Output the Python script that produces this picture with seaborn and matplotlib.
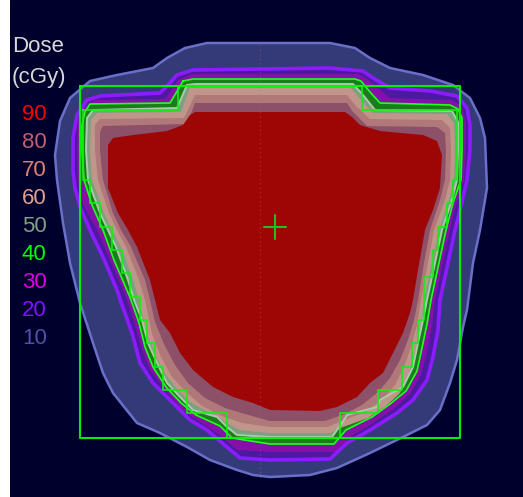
import matplotlib
matplotlib.use("Agg")
import matplotlib.pyplot as plt
import seaborn as sns
import pandas as pd

# Isodose levels (cGy) and their display colours
levels = [10, 20, 30, 40, 50, 60, 70, 80, 90]
label_colors = ["#5050a8", "#8010ff", "#e000e0", "#00ff00", "#80a080",
                "#e0a090", "#e08070", "#c06070", "#ff0000"]
fill_colors = ["#343a78", "#4c1aa0", "#8410a8", "#1a7d1a", "#7fa07f",
               "#c0968a", "#b07878", "#8c5068", "#9e0606"]

# Isodose contours in image coordinates (x, y)
iso_10 = [(185, 48), (207, 43), (330, 43), (355, 48), (370, 58), (390, 68), (423, 75), (453, 85),
          (470, 98), (480, 118), (485, 138), (487, 188), (480, 230), (473, 263), (467, 310),
          (463, 327), (457, 360), (450, 383), (440, 410), (427, 425), (403, 437), (370, 453),
          (337, 468), (310, 475), (270, 477), (253, 475), (237, 470), (210, 460), (187, 447),
          (160, 433), (137, 423), (113, 393), (103, 373), (93, 343), (80, 303), (70, 263),
          (63, 223), (57, 180), (55, 155), (60, 121), (70, 98), (90, 81), (117, 75), (153, 68),
          (167, 58)]
iso_20 = [(177, 75), (193, 70), (330, 68), (363, 71), (373, 78), (390, 88), (430, 91), (457, 96),
          (467, 108), (470, 125), (470, 150), (467, 180), (460, 210), (455, 230), (448, 263),
          (440, 300), (438, 330), (433, 357), (427, 380), (413, 400), (397, 413), (370, 430),
          (347, 443), (330, 459), (270, 460), (240, 458), (227, 447), (207, 430), (190, 420),
          (173, 403), (153, 383), (140, 363), (132, 333), (122, 305), (117, 290), (103, 257),
          (90, 230), (80, 207), (75, 188), (73, 171), (73, 138), (77, 115), (87, 100), (100, 96),
          (160, 93), (168, 85)]
iso_30 = [(178, 80), (192, 74), (358, 74), (366, 78), (378, 88), (390, 98), (452, 100), (462, 106),
          (466, 122), (466, 150), (464, 180), (456, 205), (450, 230), (443, 263), (435, 300),
          (432, 327), (427, 352), (421, 375), (410, 394), (395, 408), (372, 424), (350, 437),
          (335, 452), (270, 452), (237, 450), (222, 437), (200, 422), (182, 410), (165, 390),
          (150, 370), (142, 350), (135, 325), (127, 300), (123, 290), (110, 260), (97, 230),
          (83, 205), (78, 180), (77, 150), (78, 120), (84, 106), (95, 100), (165, 99), (172, 89)]
iso_40 = [(183, 81), (193, 79), (355, 79), (361, 81), (370, 92), (380, 103), (450, 105), (458, 109),
          (462, 118), (462, 150), (461, 180), (453, 203), (446, 230), (439, 263), (431, 300),
          (427, 324), (422, 348), (417, 371), (406, 391), (390, 404), (372, 417), (346, 430),
          (334, 444), (270, 444), (232, 438), (220, 426), (196, 415), (181, 403), (166, 387),
          (153, 367), (145, 347), (139, 323), (131, 300), (126, 288), (114, 260), (103, 230),
          (92, 205), (84, 180), (82, 150), (82, 125), (85, 112), (90, 104), (170, 103), (176, 93)]
iso_50 = [(187, 85), (195, 84), (353, 84), (363, 95), (375, 110), (452, 111), (458, 122), (458, 150),
          (457, 180), (452, 200), (442, 230), (435, 263), (427, 300), (423, 320), (418, 343),
          (413, 367), (403, 387), (380, 400), (377, 407), (347, 415), (342, 423), (332, 437),
          (270, 437), (237, 435), (227, 427), (217, 417), (193, 410), (180, 397), (167, 383),
          (157, 363), (148, 343), (142, 320), (134, 300), (128, 280), (116, 247), (108, 230),
          (100, 213), (88, 180), (86, 150), (87, 118), (93, 110), (177, 108)]
iso_60 = [(190, 88), (351, 88), (361, 100), (373, 113), (447, 114), (454, 123), (455, 150),
          (454, 180), (449, 200), (439, 230), (432, 263), (424, 300), (420, 328), (415, 350),
          (409, 373), (400, 393), (386, 406), (368, 418), (343, 427), (330, 433), (270, 433),
          (240, 430), (225, 422), (210, 413), (190, 402), (177, 389), (164, 372), (154, 352),
          (146, 331), (139, 300), (133, 280), (121, 247), (112, 230), (104, 213), (92, 180),
          (90, 150), (91, 120), (97, 113), (181, 112)]
iso_70 = [(195, 95), (347, 95), (356, 106), (370, 119), (442, 120), (450, 128), (451, 150),
          (450, 180), (445, 200), (434, 230), (428, 263), (421, 300), (417, 325), (411, 347),
          (404, 367), (395, 385), (382, 400), (365, 412), (344, 420), (328, 427), (270, 427),
          (242, 423), (222, 416), (202, 406), (186, 392), (172, 377), (161, 357), (152, 334),
          (145, 300), (139, 280), (126, 247), (117, 230), (109, 213), (98, 180), (95, 150),
          (95, 125), (100, 119), (184, 118)]
iso_80 = [(195, 103), (347, 103), (353, 112), (367, 126), (437, 127), (445, 133), (446, 150),
          (445, 180), (440, 200), (430, 230), (424, 263), (418, 300), (414, 320), (408, 340),
          (400, 360), (390, 378), (378, 392), (362, 405), (345, 414), (325, 421), (270, 421),
          (245, 414), (225, 408), (205, 398), (188, 383), (175, 365), (164, 344), (155, 322),
          (150, 300), (145, 280), (131, 247), (121, 230), (113, 213), (103, 180), (100, 150),
          (100, 132), (103, 126), (187, 124)]
iso_90 = [(195, 112), (345, 112), (352, 117), (360, 125), (380, 131), (423, 135), (437, 141),
          (442, 155), (440, 188), (433, 210), (425, 230), (418, 270), (413, 300), (410, 313),
          (403, 333), (393, 353), (383, 373), (370, 383), (357, 397), (337, 407), (320, 411),
          (270, 410), (253, 403), (233, 397), (213, 387), (193, 370), (180, 353), (170, 333),
          (160, 320), (155, 300), (150, 280), (137, 247), (128, 230), (118, 213), (108, 188),
          (108, 145), (113, 138), (133, 135), (167, 131), (183, 125), (190, 115)]

# Treatment field and shaped block outline
field_x = [80, 460, 460, 80, 80]
field_y = [86, 86, 438, 438, 86]
block_x = [83, 178, 178, 362, 362, 457, 457, 453, 453, 447, 447, 438, 438, 433, 433, 424, 424,
           418, 418, 412, 412, 402, 402, 378, 378, 340, 340, 227, 227, 187, 187, 163, 163, 155,
           155, 147, 147, 140, 140, 130, 130, 122, 122, 112, 112, 100, 100, 90, 90, 83, 83]
block_y = [110, 110, 86, 86, 110, 110, 180, 180, 203, 203, 227, 227, 250, 250, 277, 277, 320,
           320, 343, 343, 367, 367, 390, 390, 413, 413, 438, 438, 413, 413, 390, 390, 367, 367,
           343, 343, 320, 320, 297, 297, 273, 273, 250, 250, 227, 227, 203, 203, 180, 180, 110]
isocenter = (275, 227)

contours = [iso_10, iso_20, iso_30, iso_40, iso_50, iso_60, iso_70, iso_80, iso_90]
rows = []
for lev, pts in zip(levels, contours):
    closed = pts + [pts[0]]
    for i, (x, y) in enumerate(closed):
        rows.append({"level": lev, "order": i, "x": x, "y": y})
iso_df = pd.DataFrame(rows)

sns.set_theme(style="dark")
plt.rcParams["font.family"] = ["Liberation Sans", "DejaVu Sans"]

W, H = 523, 497
fig = plt.figure(figsize=(W / 100, H / 100), dpi=100, facecolor="white")
ax = fig.add_axes([10 / W, 0, 1 - 10 / W, 1])
ax.set_facecolor("#00002c")
ax.set_xlim(10, W)
ax.set_ylim(H, 0)
ax.axis("off")
ax.add_patch(plt.Rectangle((10, 0), W, H, color="#00002c", zorder=0))

# Colour-wash bands, lowest dose first
edge_style = {10: ("#6a70c8", 1.8), 20: ("#8c1cff", 2.6), 40: ("#22ff22", 1.2),
              50: ("#a8cca8", 1.4)}
for lev, fc in zip(levels, fill_colors):
    sub = iso_df[iso_df["level"] == lev].sort_values("order")
    ax.fill(sub["x"], sub["y"], color=fc, lw=0, zorder=1)
    if lev in edge_style:
        col, lw = edge_style[lev]
        sns.lineplot(data=sub, x="x", y="y", sort=False, estimator=None, color=col,
                     lw=lw, ax=ax, zorder=2)

# Faint dotted reference line
ax.plot([260, 260], [45, 478], color="#d07070", lw=0.8, ls=(0, (1, 3)), alpha=0.4, zorder=3)

# Field and block outlines
sns.lineplot(x=field_x, y=field_y, sort=False, estimator=None, color="#00ee00", lw=1.5,
             ax=ax, zorder=4)
sns.lineplot(x=block_x, y=block_y, sort=False, estimator=None, color="#10f010", lw=1.2,
             ax=ax, zorder=4)

# Isocentre crosshair
cx, cy = isocenter
ax.plot([cx - 11, cx + 11], [cy, cy], color="#20c020", lw=1.5, zorder=5)
ax.plot([cx, cx], [cy - 12, cy + 12], color="#20c020", lw=1.5, zorder=5)

ax.set_xlabel("")
ax.set_ylabel("")

# Dose legend
ax.text(12, 47, "Dose", color="#d8d8d8", fontsize=16, va="center", ha="left", zorder=6)
ax.text(12, 77, "(cGy)", color="#d8d8d8", fontsize=16, va="center", ha="left", zorder=6)
for i, (lev, col) in enumerate(zip(levels[::-1], label_colors[::-1])):
    ax.text(22, 114 + 28 * i, str(lev), color=col, fontsize=16, va="center", ha="left", zorder=6)

fig.savefig("out.png", dpi=100, facecolor="white")
